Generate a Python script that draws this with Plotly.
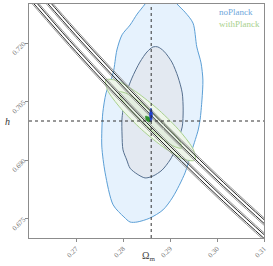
import plotly.graph_objects as go

# ---------------- data ----------------
fid_om = 0.286
fid_h = 0.700

x_ticks = [0.27, 0.28, 0.29, 0.30, 0.31]
y_ticks = [0.675, 0.690, 0.705, 0.720]

# noPlanck 95% contour
noP95_om = [0.2755, 0.2755, 0.2757, 0.2764, 0.2779, 0.2787, 0.2798, 0.2815, 0.2830, 0.2847,
            0.2864, 0.2896, 0.2915, 0.2932, 0.2949, 0.2957, 0.2966, 0.2970, 0.2968, 0.2964,
            0.2960, 0.2947, 0.2932, 0.2906, 0.2885, 0.2857, 0.2830, 0.2815, 0.2802, 0.2779,
            0.2762, 0.2755]
noP95_h = [0.6933, 0.6977, 0.7021, 0.7072, 0.7123, 0.7182, 0.7221, 0.7246, 0.7274, 0.7300,
           0.7331, 0.7331, 0.7300, 0.7279, 0.7251, 0.7190, 0.7149, 0.7105, 0.7054, 0.7003,
           0.6977, 0.6926, 0.6867, 0.6805, 0.6772, 0.6751, 0.6741, 0.6741, 0.6754, 0.6785,
           0.6867, 0.6933]

# noPlanck 68% contour
noP68_om = [0.2798, 0.2798, 0.2806, 0.2819, 0.2836, 0.2851, 0.2864, 0.2874, 0.2887, 0.2904,
            0.2917, 0.2926, 0.2928, 0.2926, 0.2917, 0.2911, 0.2900, 0.2883, 0.2864, 0.2847,
            0.2830, 0.2815, 0.2808, 0.2800, 0.2798]
noP68_h = [0.6964, 0.7008, 0.7067, 0.7110, 0.7151, 0.7177, 0.7190, 0.7190, 0.7179, 0.7151,
           0.7113, 0.7072, 0.7028, 0.6985, 0.6951, 0.6926, 0.6900, 0.6874, 0.6859, 0.6854,
           0.6864, 0.6879, 0.6900, 0.6926, 0.6964]

# withPlanck 95% / 68% contours
wP95_om = [0.29534, 0.29315, 0.28900, 0.28400, 0.27951, 0.27670, 0.27636, 0.27855,
           0.28270, 0.28770, 0.29221, 0.29500, 0.29534]
wP95_h = [0.68997, 0.69010, 0.69295, 0.69777, 0.70326, 0.70792, 0.71054, 0.71041,
          0.70754, 0.70274, 0.69726, 0.69259, 0.68997]
wP68_om = [0.29250, 0.29111, 0.28832, 0.28485, 0.28166, 0.27960, 0.27920, 0.28060,
           0.28338, 0.28685, 0.29004, 0.29211, 0.29250]
wP68_h = [0.69305, 0.69336, 0.69549, 0.69892, 0.70269, 0.70582, 0.70746, 0.70715,
          0.70503, 0.70159, 0.69782, 0.69469, 0.69305]

# narrow degeneracy bands (two bands, each: outer grey pair + inner black pair)
band_om = [0.255, 0.270, 0.285, 0.300, 0.315]
bandA_outer1 = [0.73805, 0.71725, 0.69812, 0.68044, 0.66404]
bandA_inner1 = [0.73858, 0.71777, 0.69862, 0.68093, 0.66452]
bandA_inner2 = [0.73964, 0.71880, 0.69962, 0.68191, 0.66548]
bandA_outer2 = [0.74017, 0.71931, 0.70013, 0.68240, 0.66595]
bandB_outer1 = [0.74228, 0.72137, 0.70213, 0.68435, 0.66785]
bandB_inner1 = [0.74281, 0.72188, 0.70263, 0.68484, 0.66833]
bandB_inner2 = [0.74386, 0.72291, 0.70362, 0.68581, 0.66928]
bandB_outer2 = [0.74439, 0.72342, 0.70412, 0.68630, 0.66975]

# tiny contours near fiducial
blue_om = [0.28596, 0.28628, 0.28596, 0.28564, 0.28596]
blue_h = [0.70334, 0.70154, 0.69974, 0.70154, 0.70334]
green_om = [0.28479, 0.28564, 0.28585, 0.28500, 0.28479]
green_h = [0.70128, 0.70090, 0.69974, 0.70013, 0.70128]

legend_labels = ["noPlanck", "withPlanck"]
x_title = "Ω<sub>m</sub>"
y_title = "<i>h</i>"

# ---------------- styling ----------------
FONT = "Liberation Serif"
C_BLUE_EDGE = "#5b9fd6"
C_BLUE_FILL = "#e6f2fd"
C_SLATE_EDGE = "#56708f"
C_SLATE_FILL = "#e3e9f1"
C_GREEN_EDGE = "#a9d18e"
C_GREEN_FILL = "#eef6ea"
C_GREEN_FILL2 = "#e3eee0"

fig = go.Figure()

def contour(xs, ys, fill, edge, w=1.0):
    fig.add_trace(go.Scatter(x=xs, y=ys, mode="lines", fill="toself",
                             fillcolor=fill, line=dict(color=edge, width=w, shape="spline", smoothing=0.8),
                             hoverinfo="skip", showlegend=False))

contour(noP95_om, noP95_h, C_BLUE_FILL, C_BLUE_EDGE)
contour(noP68_om, noP68_h, C_SLATE_FILL, C_SLATE_EDGE)
contour(wP95_om, wP95_h, C_GREEN_FILL, C_GREEN_EDGE)
contour(wP68_om, wP68_h, C_GREEN_FILL2, C_GREEN_EDGE)

for ys, col in [(bandA_outer1, "#9a9a9a"), (bandA_inner1, "#222222"), (bandA_inner2, "#222222"),
                (bandA_outer2, "#9a9a9a"), (bandB_outer1, "#9a9a9a"), (bandB_inner1, "#222222"),
                (bandB_inner2, "#222222"), (bandB_outer2, "#9a9a9a")]:
    fig.add_trace(go.Scatter(x=band_om, y=ys, mode="lines",
                             line=dict(color=col, width=1, shape="spline"),
                             hoverinfo="skip", showlegend=False))

fig.add_vline(x=fid_om, line=dict(color="#333333", width=1, dash="dot"))
fig.add_hline(y=fid_h, line=dict(color="#333333", width=1, dash="dot"))

contour(green_om, green_h, "#2f8f2f", "#2f8f2f", 0.5)
contour(blue_om, blue_h, "#1f3fd0", "#1f3fd0", 0.5)

axis_common = dict(showline=True, linecolor="#8c8c8c", linewidth=1, mirror=True,
                   showgrid=False, zeroline=False, ticks="outside", ticklen=3,
                   tickcolor="#8c8c8c", tickangle=-45, automargin=False,
                   tickfont=dict(family=FONT, size=7, color="#777777"))

fig.update_xaxes(range=[0.26, 0.31], tickvals=x_ticks,
                 ticktext=[f"{v:.2f}" for v in x_ticks], **axis_common)
fig.update_yaxes(range=[0.67, 0.73], tickvals=y_ticks,
                 ticktext=[f"{v:.3f}" for v in y_ticks], **axis_common)

# axis titles
fig.add_annotation(xref="paper", yref="paper", x=0.51, y=-0.077, xanchor="center", yanchor="middle",
                   text=x_title, showarrow=False, font=dict(family=FONT, size=10, color="#444444"))
fig.add_annotation(xref="paper", yref="paper", x=-0.09, y=0.5, xanchor="center", yanchor="middle",
                   text=y_title, showarrow=False, font=dict(family=FONT, size=10, color="#333333"))

# legend (text only, coloured)
fig.add_annotation(xref="paper", yref="paper", x=0.80, y=0.966, xanchor="left", yanchor="middle",
                   text=legend_labels[0], showarrow=False,
                   font=dict(family=FONT, size=9, color="#6fa8dc"))
fig.add_annotation(xref="paper", yref="paper", x=0.80, y=0.915, xanchor="left", yanchor="middle",
                   text=legend_labels[1], showarrow=False,
                   font=dict(family=FONT, size=9, color="#a9d18e"))

fig.update_layout(width=273, height=266, margin=dict(l=29, r=9, t=4, b=28),
                  plot_bgcolor="white", paper_bgcolor="white", showlegend=False)

fig.write_html("out.html", post_script="document.body.style.margin='0px';",
               config={"displayModeBar": False})
